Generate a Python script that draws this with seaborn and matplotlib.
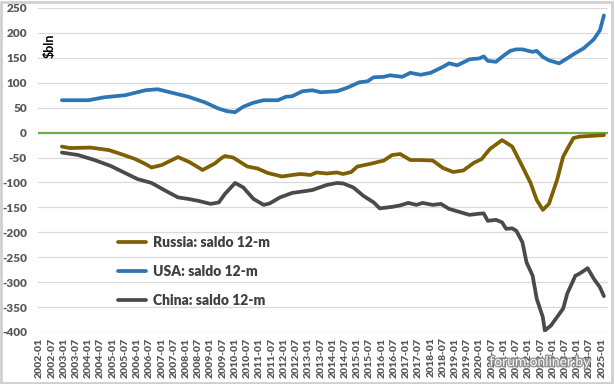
import pandas as pd
import seaborn as sns
import matplotlib.pyplot as plt
import matplotlib.patheffects as pe
from matplotlib.patches import Rectangle

# 12-month trade balance, $bln
usa_dates = ['2002-12', '2004-01', '2004-09', '2005-07', '2006-05', '2006-11', '2007-06', '2008-02',
             '2008-10', '2009-05', '2009-09', '2010-01', '2010-05', '2010-10', '2011-03', '2011-10',
             '2012-02', '2012-05', '2012-10', '2013-03', '2013-07', '2014-03', '2014-08', '2015-02',
             '2015-06', '2015-09', '2016-02', '2016-05', '2016-11', '2017-03', '2017-08', '2018-01',
             '2018-07', '2018-10', '2019-02', '2019-08', '2020-01', '2020-03', '2020-05', '2020-09',
             '2020-12', '2021-04', '2021-07', '2021-10', '2022-03', '2022-05', '2022-08', '2022-11',
             '2023-04', '2023-08', '2023-11', '2024-04', '2024-09', '2024-12', '2025-01', '2025-02']
usa_vals = [65, 65, 71, 75, 85, 87, 80, 72,
            61, 48, 43, 41, 52, 60, 65, 65,
            72, 73, 83, 85, 81, 83, 90, 101,
            103, 111, 112, 115, 112, 120, 116, 120,
            132, 139, 135, 147, 149, 153, 144, 142,
            152, 164, 167, 167, 162, 164, 152, 145,
            139, 149, 157, 169, 187, 205, 220, 235]

russia_dates = ['2002-12', '2003-04', '2004-02', '2004-11', '2005-05', '2005-12', '2006-05', '2006-08',
                '2007-01', '2007-09', '2008-03', '2008-09', '2009-03', '2009-06', '2009-08', '2009-12',
                '2010-07', '2010-12', '2011-05', '2011-12', '2012-05', '2012-09', '2013-02', '2013-05',
                '2013-10', '2014-03', '2014-06', '2014-10', '2015-01', '2015-07', '2016-02', '2016-06',
                '2016-10', '2017-03', '2017-08', '2018-02', '2018-07', '2018-12', '2019-05', '2019-10',
                '2020-02', '2020-06', '2020-12', '2021-05', '2021-10', '2022-02', '2022-05', '2022-08',
                '2022-11', '2023-03', '2023-06', '2023-11', '2024-02', '2025-02']
russia_vals = [-28, -31, -30, -35, -43, -53, -63, -70,
               -65, -49, -60, -75, -62, -52, -47, -50,
               -68, -72, -81, -88, -85, -83, -85, -80,
               -82, -80, -83, -79, -68, -63, -56, -45,
               -43, -55, -55, -56, -71, -79, -76, -61,
               -53, -33, -15, -28, -68, -101, -135, -155,
               -143, -95, -48, -11, -8, -5]

china_dates = ['2002-12', '2003-08', '2004-04', '2004-12', '2005-07', '2006-01', '2006-08', '2007-03',
               '2007-09', '2008-02', '2008-07', '2009-01', '2009-05', '2009-08', '2010-01', '2010-05',
               '2010-10', '2011-03', '2011-06', '2011-11', '2012-05', '2012-12', '2013-03', '2013-10',
               '2014-03', '2014-06', '2014-11', '2015-04', '2015-09', '2015-12', '2016-06', '2016-10',
               '2017-02', '2017-06', '2017-09', '2018-02', '2018-06', '2018-10', '2019-03', '2019-08',
               '2019-12', '2020-03', '2020-05', '2020-09', '2020-12', '2021-02', '2021-05', '2021-07',
               '2021-10', '2021-12', '2022-03', '2022-05', '2022-08', '2022-09', '2022-12', '2023-03',
               '2023-06', '2023-08', '2023-12', '2024-02', '2024-06', '2024-09', '2024-12', '2025-02']
china_vals = [-40, -45, -55, -67, -81, -93, -101, -117,
              -130, -133, -137, -143, -140, -123, -101, -110,
              -133, -145, -142, -130, -121, -117, -115, -105,
              -101, -102, -110, -127, -140, -152, -149, -146,
              -141, -145, -141, -145, -143, -153, -159, -165,
              -163, -162, -177, -175, -180, -193, -192, -197,
              -220, -260, -287, -333, -370, -397, -387, -370,
              -353, -323, -287, -283, -272, -293, -310, -328]

labels = ['Russia: saldo 12-m', 'USA: saldo 12-m', 'China: saldo 12-m']
colors = ['#7f6000', '#2e75b6', '#4a4a4a']


def month_idx(dates):
    return [(int(d[:4]) - 2002) * 12 + int(d[5:]) - 1 for d in dates]


df = pd.concat([
    pd.DataFrame({'m': month_idx(d), 'v': v, 'series': lab})
    for lab, d, v in zip(labels, [russia_dates, usa_dates, china_dates],
                         [russia_vals, usa_vals, china_vals])
])

sns.set_style('white')
plt.rcParams['font.family'] = ['Lato', 'DejaVu Sans']

fig = plt.figure(figsize=(6.15, 3.84), dpi=100)
ax = fig.add_axes([38 / 615, 1 - 332 / 384, 570 / 615, 324 / 384])

ax.axhline(0, color='#70ad47', lw=1.6, zorder=1.5)
sns.lineplot(data=df, x='m', y='v', hue='series', hue_order=labels, palette=colors,
             lw=2.7, estimator=None, ax=ax, zorder=3)

tick_pos = list(range(0, 277, 6))
tick_lab = [f'{2002 + k // 12}-{k % 12 + 1:02d}' for k in tick_pos]
yt = list(range(-400, 251, 50))
ax.set_xticks(tick_pos)
ax.set_xticklabels(tick_lab, rotation=90, fontweight='heavy')
ax.set_yticks(yt)
ax.set_yticklabels([str(v) for v in yt], fontweight='heavy')
ax.set_xlim(-0.74, 279)
ax.set_ylim(-400, 250)
ax.set_xlabel('')
ax.set_ylabel('')

ax.yaxis.grid(True, color='#d9d9d9', lw=0.9)
ax.xaxis.grid(False)
for s in ax.spines.values():
    s.set_visible(False)
ax.tick_params(axis='y', length=0, pad=8, labelsize=8.5, labelcolor='#595959')
ax.tick_params(axis='x', length=0, pad=4, labelsize=7.5, labelcolor='#595959')

h, l = ax.get_legend_handles_labels()
ax.legend(h, l, loc='upper left', bbox_to_anchor=(118 / 615, 1 - 236 / 384),
          bbox_transform=fig.transFigure, frameon=False, borderpad=0, borderaxespad=0,
          handlelength=2.0, handletextpad=0.5, labelspacing=1.15,
          prop={'size': 10, 'weight': 'heavy'}, labelcolor='#404040')

fig.text(50 / 615, 1 - 34 / 384, '$bln', rotation=90, ha='center', va='top',
         fontsize=9, fontweight='bold', color='black')
fig.text(540 / 615, 1 - 362 / 384, 'forum.onliner.by', ha='center', va='center',
         fontsize=10, color='white', alpha=0.9,
         path_effects=[pe.withStroke(linewidth=2, foreground='#8c8c8c')])

fig.add_artist(Rectangle((0.001, 0.002), 0.994, 0.993, transform=fig.transFigure,
                         fill=False, edgecolor='#d0d0d0', lw=2))

fig.savefig('out.png', dpi=100)
